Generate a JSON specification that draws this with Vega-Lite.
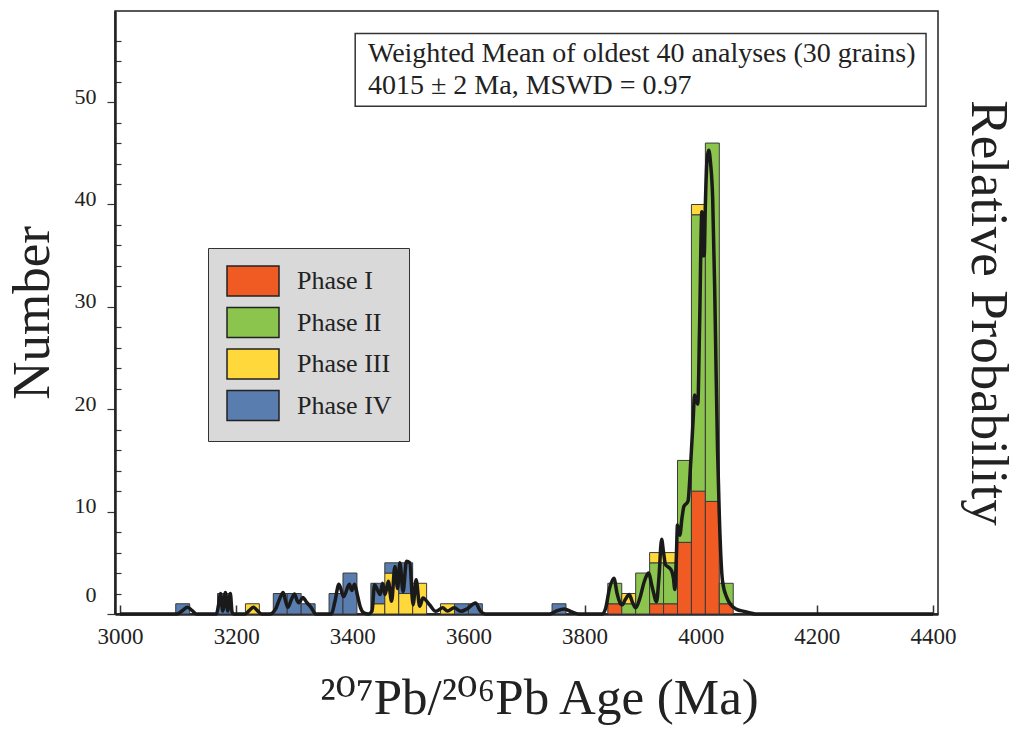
{
  "$schema": "https://vega.github.io/schema/vega-lite/v6.json",
  "width": 823,
  "height": 603,
  "autosize": "none",
  "padding": {"left": 115, "top": 11, "right": 81, "bottom": 120},
  "background": "white",
  "config": {
    "font": "Liberation Serif",
    "view": {"stroke": "#222", "strokeWidth": 1.5},
    "axis": {"labelFont": "Liberation Serif", "titleFont": "Liberation Serif, DejaVu Serif", "labelColor": "#222", "titleColor": "#222", "domainColor": "#222", "tickColor": "#333", "titleFontWeight": "normal", "grid": false}
  },
  "datasets": {
    "bars": [
      {"age": 3096, "age_end": 3120, "phase": "Phase IV", "count": 1},
      {"age": 3168, "age_end": 3192, "phase": "Phase IV", "count": 2},
      {"age": 3216, "age_end": 3240, "phase": "Phase III", "count": 1},
      {"age": 3264, "age_end": 3288, "phase": "Phase IV", "count": 2},
      {"age": 3288, "age_end": 3312, "phase": "Phase IV", "count": 2},
      {"age": 3312, "age_end": 3336, "phase": "Phase IV", "count": 1},
      {"age": 3360, "age_end": 3384, "phase": "Phase IV", "count": 2},
      {"age": 3384, "age_end": 3408, "phase": "Phase IV", "count": 4},
      {"age": 3432, "age_end": 3456, "phase": "Phase III", "count": 1},
      {"age": 3432, "age_end": 3456, "phase": "Phase IV", "count": 2},
      {"age": 3456, "age_end": 3480, "phase": "Phase III", "count": 4},
      {"age": 3456, "age_end": 3480, "phase": "Phase IV", "count": 1},
      {"age": 3480, "age_end": 3504, "phase": "Phase III", "count": 2},
      {"age": 3480, "age_end": 3504, "phase": "Phase IV", "count": 3},
      {"age": 3504, "age_end": 3528, "phase": "Phase III", "count": 3},
      {"age": 3552, "age_end": 3576, "phase": "Phase III", "count": 1},
      {"age": 3576, "age_end": 3600, "phase": "Phase IV", "count": 1},
      {"age": 3600, "age_end": 3624, "phase": "Phase IV", "count": 1},
      {"age": 3744, "age_end": 3768, "phase": "Phase IV", "count": 1},
      {"age": 3840, "age_end": 3864, "phase": "Phase I", "count": 1},
      {"age": 3840, "age_end": 3864, "phase": "Phase II", "count": 2},
      {"age": 3864, "age_end": 3888, "phase": "Phase II", "count": 1},
      {"age": 3864, "age_end": 3888, "phase": "Phase III", "count": 1},
      {"age": 3888, "age_end": 3912, "phase": "Phase II", "count": 4},
      {"age": 3912, "age_end": 3936, "phase": "Phase I", "count": 1},
      {"age": 3912, "age_end": 3936, "phase": "Phase II", "count": 4},
      {"age": 3912, "age_end": 3936, "phase": "Phase III", "count": 1},
      {"age": 3936, "age_end": 3960, "phase": "Phase I", "count": 1},
      {"age": 3936, "age_end": 3960, "phase": "Phase II", "count": 4},
      {"age": 3936, "age_end": 3960, "phase": "Phase III", "count": 1},
      {"age": 3960, "age_end": 3984, "phase": "Phase I", "count": 7},
      {"age": 3960, "age_end": 3984, "phase": "Phase II", "count": 8},
      {"age": 3984, "age_end": 4008, "phase": "Phase I", "count": 12},
      {"age": 3984, "age_end": 4008, "phase": "Phase II", "count": 27},
      {"age": 3984, "age_end": 4008, "phase": "Phase III", "count": 1},
      {"age": 4008, "age_end": 4032, "phase": "Phase I", "count": 11},
      {"age": 4008, "age_end": 4032, "phase": "Phase II", "count": 35},
      {"age": 4032, "age_end": 4056, "phase": "Phase I", "count": 1},
      {"age": 4032, "age_end": 4056, "phase": "Phase II", "count": 2}
    ],
    "curve": [
      {"age": 3000, "p": 0}, {"age": 3098, "p": 0}, {"age": 3108, "p": 0.35}, {"age": 3116, "p": 0.65}, {"age": 3124, "p": 0.35}, {"age": 3132, "p": 0},
      {"age": 3166, "p": 0}, {"age": 3170, "p": 1.0}, {"age": 3173, "p": 2.0}, {"age": 3177, "p": 0.3}, {"age": 3181.5, "p": 2.1}, {"age": 3185.5, "p": 0.3}, {"age": 3190, "p": 2.0}, {"age": 3193, "p": 0.2}, {"age": 3196, "p": 0},
      {"age": 3215, "p": 0}, {"age": 3222, "p": 0.3}, {"age": 3229.6, "p": 0.65}, {"age": 3237, "p": 0.3}, {"age": 3244, "p": 0},
      {"age": 3258, "p": 0}, {"age": 3268, "p": 0.5}, {"age": 3275, "p": 1.5}, {"age": 3281, "p": 2.1}, {"age": 3285, "p": 1.3}, {"age": 3289, "p": 0.65}, {"age": 3295, "p": 1.4}, {"age": 3300.5, "p": 1.95}, {"age": 3305, "p": 1.3}, {"age": 3308, "p": 1.1}, {"age": 3314.7, "p": 1.6}, {"age": 3322, "p": 1.1}, {"age": 3329, "p": 0.65}, {"age": 3337, "p": 0},
      {"age": 3364, "p": 0}, {"age": 3370, "p": 1.2}, {"age": 3377, "p": 2.9}, {"age": 3385, "p": 1.7}, {"age": 3395, "p": 2.9}, {"age": 3399, "p": 2.3}, {"age": 3404, "p": 2.9}, {"age": 3409, "p": 1.8}, {"age": 3414, "p": 0.65}, {"age": 3420, "p": 0.1}, {"age": 3428, "p": 0},
      {"age": 3434, "p": 0.3}, {"age": 3438.3, "p": 2.86}, {"age": 3448, "p": 1.9}, {"age": 3452, "p": 3.0}, {"age": 3456.4, "p": 1.9}, {"age": 3462, "p": 3.2}, {"age": 3467.7, "p": 1.24}, {"age": 3473.4, "p": 4.65}, {"age": 3478, "p": 2.5}, {"age": 3482, "p": 5.0}, {"age": 3487.5, "p": 2.2}, {"age": 3493.3, "p": 5.15}, {"age": 3499, "p": 5.0}, {"age": 3504.7, "p": 0.9}, {"age": 3510, "p": 3.35}, {"age": 3516, "p": 0.75}, {"age": 3521.7, "p": 1.56}, {"age": 3533, "p": 0.9}, {"age": 3544, "p": 0.26}, {"age": 3555.7, "p": 0.6}, {"age": 3564, "p": 0.3}, {"age": 3575.5, "p": 0.6}, {"age": 3587, "p": 0.26}, {"age": 3598, "p": 0.52}, {"age": 3612, "p": 1.07}, {"age": 3621, "p": 0.26}, {"age": 3629, "p": 0},
      {"age": 3740, "p": 0}, {"age": 3752, "p": 0.3}, {"age": 3765, "p": 0.5}, {"age": 3778, "p": 0.2}, {"age": 3790, "p": 0},
      {"age": 3830, "p": 0}, {"age": 3836, "p": 0.5}, {"age": 3843, "p": 2.5}, {"age": 3850.5, "p": 3.5}, {"age": 3856, "p": 2.0}, {"age": 3862, "p": 1.0}, {"age": 3865, "p": 0.9}, {"age": 3870, "p": 1.4}, {"age": 3877, "p": 1.9}, {"age": 3882, "p": 1.2}, {"age": 3888, "p": 0.6}, {"age": 3895, "p": 1.5}, {"age": 3903, "p": 3.2}, {"age": 3910, "p": 4.0}, {"age": 3917, "p": 2.5}, {"age": 3924, "p": 1.2}, {"age": 3928, "p": 3.5}, {"age": 3932.7, "p": 7.3}, {"age": 3936, "p": 6.0}, {"age": 3939.5, "p": 4.8}, {"age": 3944, "p": 4.6}, {"age": 3950, "p": 4.2}, {"age": 3953, "p": 3.5}, {"age": 3955.4, "p": 2.4}, {"age": 3958, "p": 5.5}, {"age": 3960, "p": 8.7}, {"age": 3964, "p": 7.7}, {"age": 3968, "p": 9.5}, {"age": 3971, "p": 10.5}, {"age": 3978, "p": 11}, {"age": 3983, "p": 15}, {"age": 3987, "p": 19}, {"age": 3989.4, "p": 21.4}, {"age": 3995, "p": 20.5}, {"age": 3998, "p": 28}, {"age": 4002, "p": 39.3}, {"age": 4004, "p": 35}, {"age": 4006, "p": 35}, {"age": 4008, "p": 40}, {"age": 4011, "p": 44.5}, {"age": 4013.8, "p": 45.3}, {"age": 4017, "p": 44}, {"age": 4020.6, "p": 40.6}, {"age": 4024, "p": 32}, {"age": 4026.3, "p": 24.3}, {"age": 4029, "p": 16}, {"age": 4032, "p": 9.7}, {"age": 4037.6, "p": 3.2}, {"age": 4045, "p": 1.6}, {"age": 4051.8, "p": 0.9}, {"age": 4062, "p": 0.45}, {"age": 4074.5, "p": 0.26}, {"age": 4097, "p": 0}, {"age": 4400, "p": 0}
    ]
  },
  "layer": [
    {
      "data": {"name": "bars"},
      "mark": {"type": "bar", "stroke": "#3a3a3a", "strokeWidth": 1},
      "encoding": {
        "x": {"field": "age", "type": "quantitative", "scale": {"domain": [3000, 4400], "nice": false, "zero": false},
          "axis": {"values": [3000, 3200, 3400, 3600, 3800, 4000, 4200, 4400], "format": "d", "labelFontSize": 23, "tickSize": -9, "tickWidth": 1.5, "domainWidth": 2.5, "labelPadding": 20, "title": "²⁰⁷Pb/²⁰⁶Pb Age (Ma)", "titleFontSize": 51, "titlePadding": 25, "titleX": 424, "titleAlign": "center"}},
        "x2": {"field": "age_end"},
        "y": {"aggregate": "sum", "field": "count", "type": "quantitative", "stack": "zero", "scale": {"domain": [0, 58.9], "nice": false},
          "axis": {"values": [0, 2, 4, 6, 8, 10, 12, 14, 16, 18, 20, 22, 24, 26, 28, 30, 32, 34, 36, 38, 40, 42, 44, 46, 48, 50, 52, 54, 56],
            "labelExpr": "datum.value % 10 === 0 ? datum.label : ''", "labelFontSize": 22,
            "tickSize": {"condition": {"test": "datum.value % 10 === 0", "value": 8}, "value": -6},
            "labelOffset": {"condition": {"test": "datum.value === 0", "value": -20}, "value": -6},
            "labelPadding": 11, "domainWidth": 2.5, "tickWidth": 1.2,
            "title": "Number", "titleFontSize": 53, "titlePadding": 15}},
        "color": {"field": "phase", "type": "nominal", "scale": {"domain": ["Phase I", "Phase II", "Phase III", "Phase IV"], "range": ["#F05A23", "#8CC54E", "#FFD83B", "#587DAE"]},
          "legend": {"title": null, "orient": "none", "legendX": 93, "legendY": 237, "fillColor": "#d9d9d9", "strokeColor": "#333", "padding": 17,
            "symbolType": "M-0.933,-1L2.533,-1L2.533,1L-0.933,1Z", "symbolSize": 900, "symbolStrokeColor": "#222", "symbolStrokeWidth": 1.5, "symbolOpacity": 1,
            "labelFont": "Liberation Serif", "labelFontSize": 26, "labelColor": "#222", "labelOffset": 40, "rowPadding": 5.5}},
        "order": {"field": "phase", "sort": "ascending"}
      }
    },
    {
      "data": {"name": "curve"},
      "mark": {"type": "line", "color": "#1a1a1a", "strokeWidth": 3.5, "interpolate": "monotone"},
      "encoding": {
        "x": {"field": "age", "type": "quantitative"},
        "y": {"field": "p", "type": "quantitative", "scale": {"domain": [0, 58.9], "nice": false},
          "axis": {"orient": "right", "labels": false, "ticks": false, "domain": false, "title": "Relative Probability", "titleFontSize": 53, "titlePadding": 22}}
      }
    },
    {
      "data": {"values": [{}]},
      "mark": {"type": "rect", "fill": "white", "stroke": "#333", "strokeWidth": 1.5},
      "encoding": {
        "x": {"datum": 3405},
        "x2": {"datum": 4388},
        "y": {"datum": 56.7, "scale": {"domain": [0, 58.9], "nice": false}, "axis": null},
        "y2": {"datum": 49.6}
      }
    },
    {
      "data": {"values": [{}]},
      "mark": {"type": "text", "align": "left", "baseline": "middle", "font": "Liberation Serif", "fontSize": 28, "color": "#222", "lineHeight": 32,
        "text": ["Weighted Mean of oldest 40 analyses (30 grains)", "4015 ± 2 Ma, MSWD = 0.97"]},
      "encoding": {
        "x": {"datum": 3427},
        "y": {"datum": 54.7, "scale": {"domain": [0, 58.9], "nice": false}, "axis": null}
      }
    }
  ],
  "resolve": {"scale": {"y": "independent"}}
}
